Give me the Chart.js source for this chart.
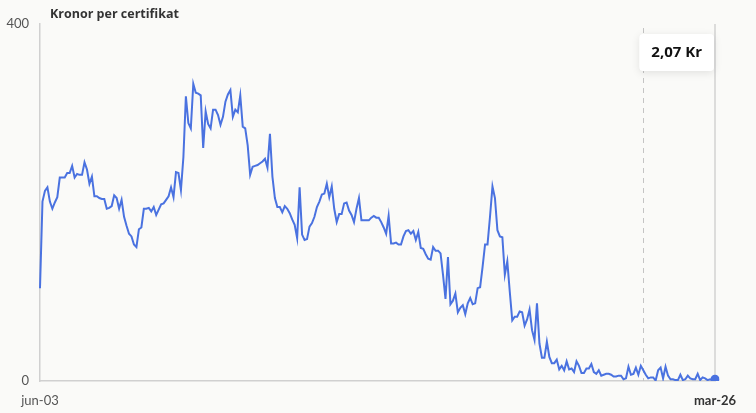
<!DOCTYPE html>
<html lang="sv">
<head>
<meta charset="UTF-8">
<title>Kronor per certifikat</title>
<style>
  html, body { margin: 0; padding: 0; background: #fafaf8; }
  .wrap { width: 756px; height: 413px; position: relative; }
</style>
</head>
<body>
<div class="wrap">
  <canvas id="chart" width="756" height="413"></canvas>
</div>
<script src="https://cdn.jsdelivr.net/npm/chart.js"></script>
<script>
// monthly price per certificate, jun-03 .. mar-26
const monthNames = ['jan', 'feb', 'mar', 'apr', 'maj', 'jun', 'jul', 'aug', 'sep', 'okt', 'nov', 'dec'];
const startYear = 2003;
const startMonth = 5; // jun

const prices = [
  104, 201, 213, 217, 201, 193, 200, 206, 228, 228,
  228, 233, 233, 241, 228, 232, 231, 231, 245, 237,
  221, 229, 207, 207, 205, 204, 204, 193, 194, 196,
  208, 205, 193, 203, 184, 174, 165, 162, 153, 150,
  170, 172, 193, 193, 194, 190, 195, 186, 192, 198,
  199, 203, 207, 217, 206, 234, 233, 214, 251, 319,
  289, 283, 333, 323, 322, 320, 261, 302, 288, 283,
  304, 304, 298, 287, 296, 313, 321, 326, 296, 304,
  301, 320, 285, 283, 264, 231, 240, 241, 242, 244,
  246, 249, 239, 277, 229, 205, 195, 195, 189, 196,
  193, 188, 181, 175, 160, 217, 164, 158, 159, 173,
  177, 184, 195, 201, 209, 210, 221, 206, 218, 193,
  178, 187, 187, 199, 200, 191, 186, 178, 193, 205,
  180, 180, 180, 180, 183, 185, 183, 183, 178, 172,
  165, 185, 154, 154, 155, 153, 153, 162, 168, 169,
  165, 168, 158, 167, 149, 148, 142, 137, 136, 150,
  146, 146, 143, 119, 92, 139, 86, 90, 98, 77,
  82, 85, 75, 87, 93, 86, 87, 104, 105, 128,
  153, 153, 184, 218, 205, 169, 162, 161, 119, 134,
  100, 68, 72, 72, 78, 77, 62, 69, 80, 57,
  46, 87, 42, 26, 26, 44, 27, 20, 20, 24,
  13, 17, 12, 22, 13, 14, 10, 22, 17, 9,
  9, 14, 14, 19, 10, 8, 12, 6, 7, 8,
  8, 7, 5, 5, 6, 6, 2, 3, 16, 7,
  8, 15, 7, 17, 12, 7, 3, 4, 4, 0.5,
  12, 15, 3, 16, 6, 2, 2, 1, 1, 7,
  1, 2, 6, 3, 2, 2, 8, 1, 4, 3,
  1, 2, 1, 2.07
];

const yTicks = [0, 400];
const title = 'Kronor per certifikat';
const tooltipText = '2,07 Kr';
const markerIndex = 244; // hover line position

const labels = prices.map((_, i) => {
  const m = startMonth + i;
  const y = startYear + Math.floor(m / 12);
  return monthNames[m % 12] + '-' + String(y % 100).padStart(2, '0');
});

const lineBlue = '#4a72e0';
const lastIdx = prices.length - 1;

const overlay = {
  id: 'overlay',
  beforeDatasetsDraw(chart) {
    const { ctx, chartArea, scales } = chart;
    ctx.save();
    // right edge line
    const xr = scales.x.getPixelForValue(lastIdx);
    ctx.strokeStyle = '#d2d2d2';
    ctx.lineWidth = 1.5;
    ctx.beginPath();
    ctx.moveTo(xr, chartArea.top);
    ctx.lineTo(xr, chartArea.bottom);
    ctx.stroke();
    // dashed hover line
    const xm = Math.round(scales.x.getPixelForValue(markerIndex)) + 0.5;
    ctx.strokeStyle = '#c4c4c4';
    ctx.lineWidth = 1;
    ctx.setLineDash([5, 5]);
    ctx.beginPath();
    ctx.moveTo(xm, chartArea.top + 4);
    ctx.lineTo(xm, chartArea.bottom);
    ctx.stroke();
    ctx.restore();
  },
  afterDraw(chart) {
    const { ctx, chartArea, scales } = chart;
    ctx.save();
    // title
    ctx.fillStyle = '#333';
    ctx.font = 'bold 12.5px "Open Sans"';
    ctx.textBaseline = 'middle';
    ctx.textAlign = 'left';
    ctx.fillText(title, 50, 14);
    // value box
    const xm = scales.x.getPixelForValue(markerIndex);
    const xr = scales.x.getPixelForValue(lastIdx);
    const bx = xm - 4, by = chartArea.top + 10, bw = xr - bx - 1, bh = 37;
    ctx.shadowColor = 'rgba(0,0,0,0.10)';
    ctx.shadowBlur = 8;
    ctx.shadowOffsetY = 2;
    ctx.fillStyle = '#ffffff';
    ctx.beginPath();
    ctx.roundRect(bx, by, bw, bh, 4);
    ctx.fill();
    ctx.shadowColor = 'transparent';
    ctx.fillStyle = '#111';
    ctx.font = 'bold 15px "Open Sans"';
    ctx.textAlign = 'center';
    ctx.fillText(tooltipText, bx + bw / 2, by + bh / 2);
    ctx.restore();
  }
};

new Chart(document.getElementById('chart'), {
  type: 'line',
  data: {
    labels: labels,
    datasets: [{
      data: prices,
      borderColor: lineBlue,
      backgroundColor: lineBlue,
      borderWidth: 2,
      tension: 0,
      pointRadius: ctx => ctx.dataIndex === lastIdx ? 4.5 : 0,
      pointBorderWidth: 0
    }]
  },
  options: {
    responsive: false,
    animation: false,
    layout: { padding: { top: 24, right: 41, left: 0, bottom: 0 } },
    plugins: {
      legend: { display: false },
      tooltip: { enabled: false }
    },
    scales: {
      x: {
        offset: false,
        grid: { display: false, drawTicks: false },
        border: { color: '#d0d0d0', width: 1.5 },
        ticks: {
          autoSkip: false,
          maxRotation: 0,
          padding: 12,
          color: ctx => ctx.index === lastIdx ? '#333' : '#555',
          font: ctx => ({ family: 'Lato', size: 13, weight: ctx.index === lastIdx ? 'bold' : 'normal' }),
          callback: (v, i) => (i === 0 || i === lastIdx) ? labels[i] : ''
        },
        afterFit: s => { s.height = 32; }
      },
      y: {
        min: yTicks[0],
        max: yTicks[1],
        grid: { display: false, drawTicks: false },
        border: { color: '#d0d0d0', width: 1.5 },
        afterBuildTicks: s => { s.ticks = yTicks.map(v => ({ value: v })); },
        ticks: {
          padding: 11,
          color: '#555',
          font: { family: 'Lato', size: 13 }
        },
        afterFit: s => { s.width = 40; }
      }
    }
  },
  plugins: [overlay]
});
</script>
</body>
</html>
